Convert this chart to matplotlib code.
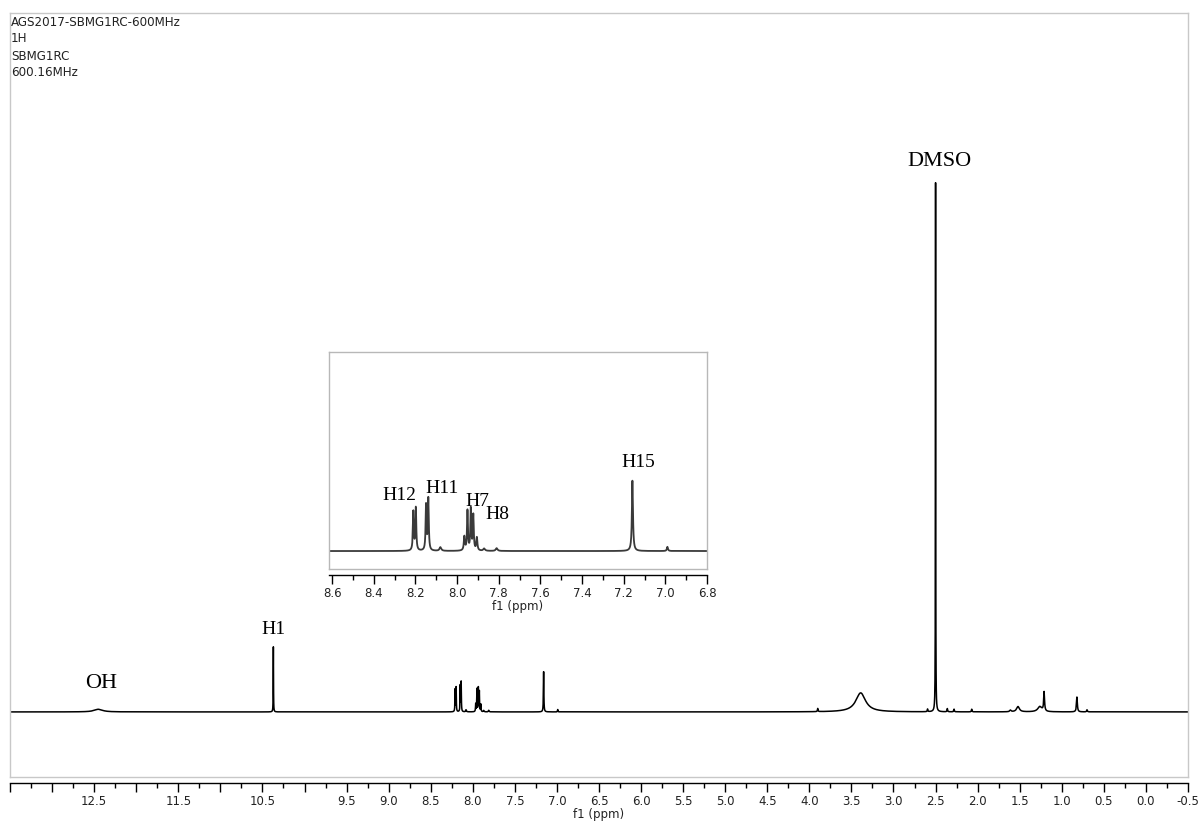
import matplotlib
matplotlib.use("Agg")
import matplotlib.pyplot as plt
import numpy as np
from matplotlib.ticker import FixedLocator, FuncFormatter, MultipleLocator

# peak list: shift (ppm), height (DMSO = 100), half width (ppm)
peak_ppm = [
    12.45, 10.37,
    8.210, 8.198, 8.149, 8.138, 8.08,
    7.965, 7.950, 7.934, 7.922, 7.905, 7.87, 7.81,
    7.158, 6.99,
    3.90, 3.39, 2.595, 2.50, 2.36, 2.28, 2.07,
    1.61, 1.52, 1.26, 1.21, 0.82, 0.70,
]
peak_height = [
    0.5, 12.3,
    4.2, 4.6, 4.9, 5.6, 0.4,
    1.5, 4.3, 4.5, 3.8, 1.4, 0.25, 0.3,
    7.6, 0.45,
    0.6, 3.6, 0.5, 100.0, 0.6, 0.5, 0.5,
    0.3, 1.0, 1.0, 3.6, 2.8, 0.4,
]
peak_hwhm = [
    0.06, 0.0018,
    0.0025, 0.0025, 0.0025, 0.0025, 0.005,
    0.003, 0.0025, 0.0025, 0.0025, 0.003, 0.005, 0.005,
    0.003, 0.003,
    0.004, 0.07, 0.004, 0.0018, 0.004, 0.004, 0.004,
    0.01, 0.02, 0.03, 0.006, 0.006, 0.005,
]

main_tick_labels = [12.5, 11.5, 10.5, 9.5, 9.0, 8.5, 8.0, 7.5, 7.0, 6.5, 6.0,
                    5.5, 5.0, 4.5, 4.0, 3.5, 3.0, 2.5, 2.0, 1.5, 1.0, 0.5,
                    0.0, -0.5]
inset_tick_labels = [8.6, 8.4, 8.2, 8.0, 7.8, 7.6, 7.4, 7.2, 7.0, 6.8]

header_lines = ["AGS2017-SBMG1RC-600MHz", "1H", "SBMG1RC", "600.16MHz"]

main_peak_labels = ["OH", "H1", "DMSO"]
inset_peak_labels = ["H12", "H11", "H7", "H8", "H15"]


def lorentz_sum(x, centres, heights, widths):
    y = np.zeros_like(x)
    for c, h, w in zip(centres, heights, widths):
        y += h / (1.0 + ((x - c) / w) ** 2)
    return y


def style_ppm_axis(ax, labels, major_step, minor_step, frame_color):
    for side in ("top", "left", "right"):
        ax.spines[side].set_color(frame_color)
        ax.spines[side].set_linewidth(1.0)
    ax.spines["bottom"].set_position(("outward", 4.5))
    ax.spines["bottom"].set_color("black")
    ax.spines["bottom"].set_linewidth(1.0)
    # the frame's own bottom edge, drawn above the shifted ppm axis
    ax.plot([0, 1], [0, 0], transform=ax.transAxes, color=frame_color,
            lw=1.0, clip_on=False)
    lo, hi = sorted(ax.get_xlim())
    majors = np.arange(np.ceil(lo / major_step) * major_step, hi + 1e-9, major_step)
    ax.xaxis.set_major_locator(FixedLocator(majors))
    ax.xaxis.set_minor_locator(MultipleLocator(minor_step))
    wanted = {round(v, 2) for v in labels}
    ax.xaxis.set_major_formatter(FuncFormatter(
        lambda v, pos: f"{v:.1f}" if round(v, 2) in wanted else ""))
    ax.tick_params(axis="x", which="major", direction="out", length=6.5,
                   width=1.0, pad=2, labelsize=8.5, labelcolor="#222222")
    ax.tick_params(axis="x", which="minor", direction="out", length=3.6,
                   width=1.0)
    ax.set_yticks([])
    ax.set_xlabel("f1 (ppm)", fontsize=8.5, color="#222222", labelpad=0)


fig = plt.figure(figsize=(12.02, 8.23), dpi=100)

# main spectrum
ax = fig.add_axes([10 / 1202, 1 - 777 / 823, 1178 / 1202, 764 / 823])
x_main = np.linspace(-0.5, 13.5, 140001)
y_main = lorentz_sum(x_main, peak_ppm, peak_height, peak_hwhm)
ax.plot(x_main, y_main, color="black", lw=1.1)
ax.set_xlim(13.5, -0.5)
ax.set_ylim(-12.3, 132.1)
style_ppm_axis(ax, main_tick_labels, 0.5, 0.25, "#c8c8c8")

serif = "Liberation Serif"
ax.text(12.42, 5.4, main_peak_labels[0], ha="center", va="center",
        fontsize=16, family=serif)
ax.text(10.37, 15.5, main_peak_labels[1], ha="center", va="center",
        fontsize=14, family=serif)
ax.text(2.45, 104.0, main_peak_labels[2], ha="center", va="center",
        fontsize=16, family=serif)

for i, line in enumerate(header_lines):
    fig.text(11 / 1202, 1 - (22 + 17 * i) / 823, line, ha="left",
             va="center", fontsize=8.6, color="#222222")

# zoom on the aromatic region
axi = fig.add_axes([329 / 1202, 1 - 569 / 823, 378 / 1202, 217 / 823])
x_ins = np.linspace(6.8, 8.615, 40001)
y_ins = lorentz_sum(x_ins, peak_ppm, peak_height, peak_hwhm)
axi.plot(x_ins, y_ins, color="#3a3a3a", lw=1.3)
axi.set_xlim(8.615, 6.8)
axi.set_ylim(-1.94, 21.5)
style_ppm_axis(axi, inset_tick_labels, 0.2, 0.1, "#b8b8b8")

inset_label_pos = [(8.278, 6.05), (8.072, 6.8), (7.904, 5.4), (7.808, 3.9),
                   (7.131, 9.6)]
for name, (px, py) in zip(inset_peak_labels, inset_label_pos):
    axi.text(px, py, name, ha="center", va="center", fontsize=14,
             family=serif)

fig.savefig("out.png", dpi=100)
